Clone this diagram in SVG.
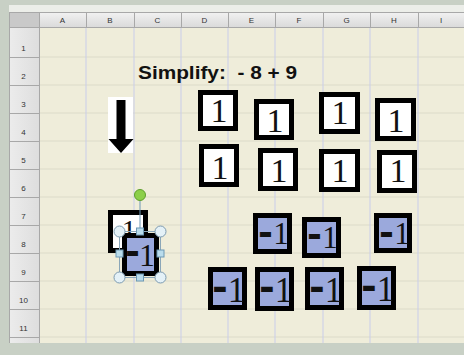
<svg xmlns="http://www.w3.org/2000/svg" width="464" height="355" viewBox="0 0 464 355">
<defs>
<linearGradient id="hdr" x1="0" y1="0" x2="0" y2="1"><stop offset="0" stop-color="#f2f2f2"/><stop offset="1" stop-color="#d9d9d9"/></linearGradient>
<linearGradient id="rhdr" x1="0" y1="0" x2="1" y2="0"><stop offset="0" stop-color="#ececec"/><stop offset="1" stop-color="#dedede"/></linearGradient>
</defs>
<style>
.hl{font-family:"Liberation Sans",Arial,sans-serif;font-size:8px;fill:#333;text-anchor:middle}
.vg{stroke:#c9cdea;stroke-width:1}
.hg{stroke:#dcdbc9;stroke-width:1}
.hs{stroke:#a8a8a8;stroke-width:1}
.one rect{fill:#fff;stroke:#000;stroke-width:5}
.one text{font-family:"Liberation Serif","Times New Roman",serif;font-size:34px;fill:#111;text-anchor:middle}
.neg rect{fill:#9ba9dc;stroke:#000;stroke-width:5}
.neg text{text-anchor:middle;fill:#111}
.d{font-family:"DejaVu Sans",sans-serif;font-weight:bold;font-size:36px}
.n{font-family:"Liberation Serif","Times New Roman",serif;font-size:31px}
.lo .d{font-size:38px}
.lo .n{font-size:35px}
.hc{fill:#e4f1f7;stroke:#7d9bb0;stroke-width:1}
.hq{fill:#b9dcec;stroke:#6d98b4;stroke-width:1}
</style>
<rect x="0" y="0" width="464" height="355" fill="#c8d0c5"/>
<rect x="9" y="5" width="455" height="7" fill="#eceee9"/>
<rect x="39" y="28" width="425" height="315" fill="#efedda"/>
<g id="grid">
<line class="hg" x1="39" y1="57" x2="464" y2="57"/>
<line class="hg" x1="39" y1="85" x2="464" y2="85"/>
<line class="hg" x1="39" y1="113" x2="464" y2="113"/>
<line class="hg" x1="39" y1="141" x2="464" y2="141"/>
<line class="hg" x1="39" y1="169" x2="464" y2="169"/>
<line class="hg" x1="39" y1="197" x2="464" y2="197"/>
<line class="hg" x1="39" y1="225" x2="464" y2="225"/>
<line class="hg" x1="39" y1="253" x2="464" y2="253"/>
<line class="hg" x1="39" y1="281" x2="464" y2="281"/>
<line class="hg" x1="39" y1="309" x2="464" y2="309"/>
<line class="hg" x1="39" y1="337" x2="464" y2="337"/>
<line class="vg" x1="86" y1="28" x2="86" y2="343"/>
<line class="vg" x1="134" y1="28" x2="134" y2="343"/>
<line class="vg" x1="181" y1="28" x2="181" y2="343"/>
<line class="vg" x1="228" y1="28" x2="228" y2="343"/>
<line class="vg" x1="275" y1="28" x2="275" y2="343"/>
<line class="vg" x1="323" y1="28" x2="323" y2="343"/>
<line class="vg" x1="370" y1="28" x2="370" y2="343"/>
<line class="vg" x1="418" y1="28" x2="418" y2="343"/>
</g>
<g id="colheaders">
<rect x="39" y="12" width="425" height="16" fill="url(#hdr)"/>
<rect x="9" y="12" width="30" height="16" fill="#c9c9c9"/>
<line class="hs" x1="9" y1="12.5" x2="464" y2="12.5"/>
<line class="hs" x1="9" y1="27.5" x2="464" y2="27.5"/>
<line class="hs" x1="39.5" y1="12" x2="39.5" y2="343"/>
<line class="hs" x1="86.5" y1="12" x2="86.5" y2="28"/>
<line class="hs" x1="134.5" y1="12" x2="134.5" y2="28"/>
<line class="hs" x1="181.5" y1="12" x2="181.5" y2="28"/>
<line class="hs" x1="228.5" y1="12" x2="228.5" y2="28"/>
<line class="hs" x1="275.5" y1="12" x2="275.5" y2="28"/>
<line class="hs" x1="323.5" y1="12" x2="323.5" y2="28"/>
<line class="hs" x1="370.5" y1="12" x2="370.5" y2="28"/>
<line class="hs" x1="418.5" y1="12" x2="418.5" y2="28"/>
<text class="hl" x="62.5" y="23">A</text>
<text class="hl" x="110" y="23">B</text>
<text class="hl" x="157.5" y="23">C</text>
<text class="hl" x="204.5" y="23">D</text>
<text class="hl" x="251.5" y="23">E</text>
<text class="hl" x="299" y="23">F</text>
<text class="hl" x="346.5" y="23">G</text>
<text class="hl" x="394" y="23">H</text>
<text class="hl" x="441" y="23">I</text>
</g>
<g id="rowheaders">
<rect x="9" y="28" width="30" height="315" fill="url(#rhdr)"/>
<line class="hs" x1="9.5" y1="12" x2="9.5" y2="343"/>
<line class="hs" x1="9" y1="57.5" x2="39" y2="57.5"/>
<line class="hs" x1="9" y1="85.5" x2="39" y2="85.5"/>
<line class="hs" x1="9" y1="113.5" x2="39" y2="113.5"/>
<line class="hs" x1="9" y1="141.5" x2="39" y2="141.5"/>
<line class="hs" x1="9" y1="169.5" x2="39" y2="169.5"/>
<line class="hs" x1="9" y1="197.5" x2="39" y2="197.5"/>
<line class="hs" x1="9" y1="225.5" x2="39" y2="225.5"/>
<line class="hs" x1="9" y1="253.5" x2="39" y2="253.5"/>
<line class="hs" x1="9" y1="281.5" x2="39" y2="281.5"/>
<line class="hs" x1="9" y1="309.5" x2="39" y2="309.5"/>
<line class="hs" x1="9" y1="337.5" x2="39" y2="337.5"/>
<text class="hl" x="23.5" y="51">1</text>
<text class="hl" x="23.5" y="79">2</text>
<text class="hl" x="23.5" y="107">3</text>
<text class="hl" x="23.5" y="135">4</text>
<text class="hl" x="23.5" y="163">5</text>
<text class="hl" x="23.5" y="191">6</text>
<text class="hl" x="23.5" y="219">7</text>
<text class="hl" x="23.5" y="247">8</text>
<text class="hl" x="23.5" y="275">9</text>
<text class="hl" x="23.5" y="303">10</text>
<text class="hl" x="23.5" y="331">11</text>
</g>
<g id="title">
<text x="138" y="79" font-family="Liberation Sans,Arial,sans-serif" font-weight="bold" font-size="18" fill="#111" style="white-space:pre" textLength="159" lengthAdjust="spacingAndGlyphs">Simplify:  - 8 + 9</text>
</g>
<g id="arrow">
<rect x="108" y="97" width="25" height="56" fill="#fff"/>
<path d="M116.5,100 H125.5 V139 H133.5 L121,153 L108.5,139 H116.5 Z" fill="#000"/>
</g>
<g id="p1" class="one"><rect x="200.5" y="92.5" width="35" height="36"/><text x="219" y="122">1</text></g>
<g id="p2" class="one"><rect x="256.5" y="101.5" width="35" height="36"/><text x="275" y="132">1</text></g>
<g id="p3" class="one"><rect x="321.5" y="94.5" width="36" height="37"/><text x="340" y="124">1</text></g>
<g id="p4" class="one"><rect x="377.5" y="100.5" width="36" height="38"/><text x="396" y="132">1</text></g>
<g id="p5" class="one"><rect x="201.5" y="146.5" width="35" height="38"/><text x="220" y="179">1</text></g>
<g id="p6" class="one"><rect x="260.5" y="150.5" width="35" height="38"/><text x="279" y="182">1</text></g>
<g id="p7" class="one"><rect x="321.5" y="151.5" width="36" height="38"/><text x="340" y="182">1</text></g>
<g id="p8" class="one"><rect x="379.5" y="152.5" width="35" height="38"/><text x="398" y="182">1</text></g>
<g id="n1" class="neg"><rect x="255.5" y="215.5" width="34" height="36"/><text><tspan class="d" x="265.5" y="245">-</tspan><tspan class="n" x="281" y="244">1</tspan></text></g>
<g id="n2" class="neg"><rect x="304.5" y="219.5" width="34" height="36"/><text><tspan class="d" x="314.5" y="247">-</tspan><tspan class="n" x="330" y="248">1</tspan></text></g>
<g id="n3" class="neg"><rect x="376.5" y="215.5" width="33" height="35"/><text><tspan class="d" x="386.5" y="245">-</tspan><tspan class="n" x="402" y="244">1</tspan></text></g>
<g id="n4" class="neg lo"><rect x="210.5" y="269.5" width="34" height="38"/><text><tspan class="d" x="220" y="300">-</tspan><tspan class="n" x="236.5" y="302">1</tspan></text></g>
<g id="n5" class="neg lo"><rect x="257.5" y="269.5" width="34" height="39"/><text><tspan class="d" x="267" y="300">-</tspan><tspan class="n" x="283.5" y="302">1</tspan></text></g>
<g id="n6" class="neg lo"><rect x="307.5" y="269.5" width="34" height="38"/><text><tspan class="d" x="317" y="300">-</tspan><tspan class="n" x="333.5" y="302">1</tspan></text></g>
<g id="n7" class="neg lo"><rect x="359.5" y="268.5" width="34" height="39"/><text><tspan class="d" x="369" y="299">-</tspan><tspan class="n" x="385.5" y="301">1</tspan></text></g>
<g id="p9" class="one"><rect x="110.5" y="212.5" width="35" height="38"/><text x="129" y="240" style="font-size:30px">1</text></g>
<g id="n8" class="neg"><rect x="124.5" y="235.5" width="32" height="38"/><text><tspan class="d" x="132.5" y="264">-</tspan><tspan class="n" x="147" y="266" style="font-size:32px">1</tspan></text></g>
<g id="selection">
<line x1="140" y1="201" x2="140" y2="231" stroke="#6d98b4" stroke-width="1"/>
<rect x="119.5" y="231.5" width="41" height="46" fill="none" stroke="#8aa6b8" stroke-width="1"/>
<circle cx="140" cy="195" r="5.5" fill="#8ccf4a" stroke="#5e9e2c" stroke-width="1"/>
<circle class="hc" cx="119.5" cy="231.5" r="5.5"/>
<circle class="hc" cx="160.5" cy="231.5" r="5.5"/>
<circle class="hc" cx="119.5" cy="277.5" r="5.5"/>
<circle class="hc" cx="160.5" cy="277.5" r="5.5"/>
<rect class="hq" x="136.5" y="228" width="7" height="7"/>
<rect class="hq" x="136.5" y="274" width="7" height="7"/>
<rect class="hq" x="116" y="250" width="7" height="7"/>
<rect class="hq" x="157" y="250" width="7" height="7"/>
</g>
</svg>
